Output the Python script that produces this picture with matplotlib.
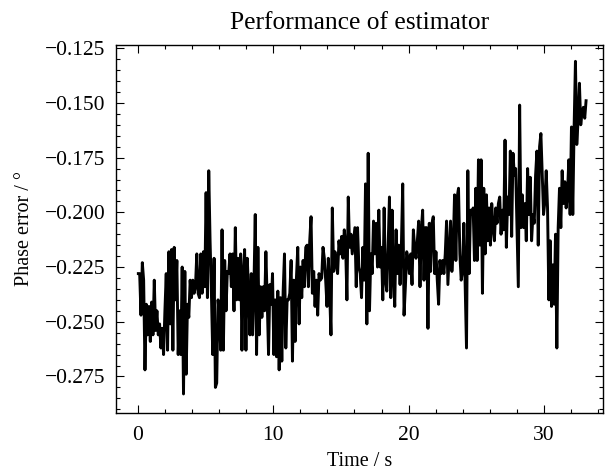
import numpy as np
import matplotlib
matplotlib.use("Agg")
import matplotlib.pyplot as plt
from matplotlib.ticker import MultipleLocator

err_a = [-0.228, -0.228, -0.247, -0.223, -0.231, -0.272, -0.242, -0.256, -0.243, -0.259,
         -0.241, -0.256, -0.231, -0.254, -0.245, -0.256, -0.251, -0.262, -0.253, -0.265,
         -0.245, -0.228, -0.263, -0.218, -0.251, -0.217, -0.263, -0.216, -0.240, -0.222,
         -0.265, -0.245, -0.265, -0.225, -0.283, -0.227, -0.274, -0.242, -0.248, -0.231,
         -0.239, -0.231, -0.237, -0.234, -0.219, -0.237, -0.239, -0.219, -0.237, -0.218,
         -0.234, -0.191, -0.239, -0.181, -0.213, -0.237, -0.265, -0.221, -0.280, -0.278,
         -0.240, -0.247, -0.263, -0.208, -0.263, -0.222, -0.245, -0.227, -0.228, -0.219,
         -0.234, -0.219, -0.245, -0.207, -0.240, -0.221, -0.240]
err_b = [-0.219, -0.263, -0.228, -0.217, -0.263, -0.221, -0.237, -0.256, -0.228, -0.256,
         -0.234, -0.201, -0.265, -0.216, -0.256, -0.234, -0.248, -0.234, -0.245, -0.218,
         -0.240, -0.265, -0.233, -0.242, -0.228, -0.265, -0.240, -0.266, -0.236, -0.272,
         -0.239, -0.268, -0.236, -0.219, -0.262, -0.240, -0.240, -0.237, -0.222, -0.268,
         -0.231, -0.259, -0.230, -0.216, -0.251, -0.225, -0.239, -0.222, -0.234, -0.216,
         -0.215, -0.234, -0.213, -0.202, -0.237, -0.227, -0.243, -0.231, -0.247, -0.228,
         -0.231, -0.230, -0.216, -0.221, -0.231, -0.243, -0.221, -0.237, -0.256, -0.198,
         -0.227, -0.218, -0.224, -0.228, -0.213, -0.219, -0.211, -0.221, -0.208, -0.215,
         -0.240, -0.193, -0.216, -0.210, -0.219, -0.213, -0.207, -0.234, -0.207, -0.225]
err_c = [-0.228, -0.239, -0.216, -0.231, -0.187, -0.251, -0.173, -0.245, -0.219, -0.228,
         -0.204, -0.219, -0.205, -0.225, -0.199, -0.225, -0.216, -0.240, -0.198, -0.231,
         -0.236, -0.216, -0.193, -0.239, -0.199, -0.228, -0.243, -0.208, -0.228, -0.215,
         -0.233, -0.215, -0.187, -0.247, -0.234, -0.218, -0.221, -0.228, -0.219, -0.233,
         -0.208, -0.216, -0.221, -0.213, -0.204, -0.234, -0.208, -0.199, -0.231, -0.207,
         -0.207, -0.253, -0.205, -0.227, -0.205, -0.202, -0.228, -0.218, -0.231, -0.242,
         -0.222, -0.228, -0.222, -0.228, -0.219, -0.204, -0.233, -0.219, -0.204, -0.227,
         -0.216, -0.192, -0.222, -0.193, -0.189, -0.219, -0.231, -0.227, -0.205, -0.233,
         -0.262, -0.181, -0.228, -0.199, -0.201, -0.198, -0.222, -0.189, -0.222, -0.176]
err_d = [-0.215, -0.176, -0.237, -0.189, -0.219, -0.192, -0.213, -0.198, -0.215, -0.196,
         -0.207, -0.213, -0.198, -0.205, -0.196, -0.193, -0.210, -0.199, -0.208, -0.167,
         -0.216, -0.193, -0.201, -0.172, -0.211, -0.173, -0.183, -0.180, -0.207, -0.234,
         -0.151, -0.207, -0.192, -0.207, -0.196, -0.213, -0.180, -0.201, -0.184, -0.213,
         -0.201, -0.205, -0.183, -0.172, -0.215, -0.170, -0.164, -0.183, -0.201, -0.195,
         -0.181, -0.198, -0.240, -0.213, -0.243, -0.224, -0.242, -0.210, -0.262, -0.207,
         -0.189, -0.207, -0.181, -0.196, -0.186, -0.198, -0.192, -0.176, -0.201, -0.161,
         -0.201, -0.161, -0.131, -0.169, -0.158, -0.141, -0.160, -0.154, -0.152, -0.157,
         -0.149]

phase_err = err_a + err_b + err_c + err_d
t_start, t_end = 0.05, 33.1
time = np.linspace(t_start, t_end, len(phase_err))

plt.rcParams['font.family'] = ['Liberation Serif', 'DejaVu Serif']

fig = plt.figure(figsize=(6.05, 4.72), dpi=100)
ax = fig.add_axes([0.1917, 0.125, 0.805, 0.7803])
ax.plot(time, phase_err, color="black", linewidth=2.1)

ax.set_xlim(-1.6, 34.35)
ax.set_ylim(-0.2917, -0.1234)
ax.xaxis.set_major_locator(MultipleLocator(10))
ax.xaxis.set_minor_locator(MultipleLocator(2))
ax.yaxis.set_major_locator(MultipleLocator(0.025))
ax.yaxis.set_minor_locator(MultipleLocator(0.005))
ax.tick_params(which="both", direction="in", top=True, right=True, labelsize=15.5)
ax.tick_params(axis="y", which="both", pad=7.5)
ax.tick_params(axis="x", which="both", pad=9.5)
ax.tick_params(which="major", length=5.8, width=0.8)
ax.tick_params(which="minor", length=3.0, width=0.8)
for s in ax.spines.values():
    s.set_linewidth(1.0)

ax.set_title("Performance of estimator", fontsize=18.4, pad=11)
ax.set_xlabel("Time / s", fontsize=14.5, labelpad=5)
ax.set_ylabel("Phase error / °", fontsize=14.5, labelpad=8)

fig.savefig("out.png", dpi=100)
